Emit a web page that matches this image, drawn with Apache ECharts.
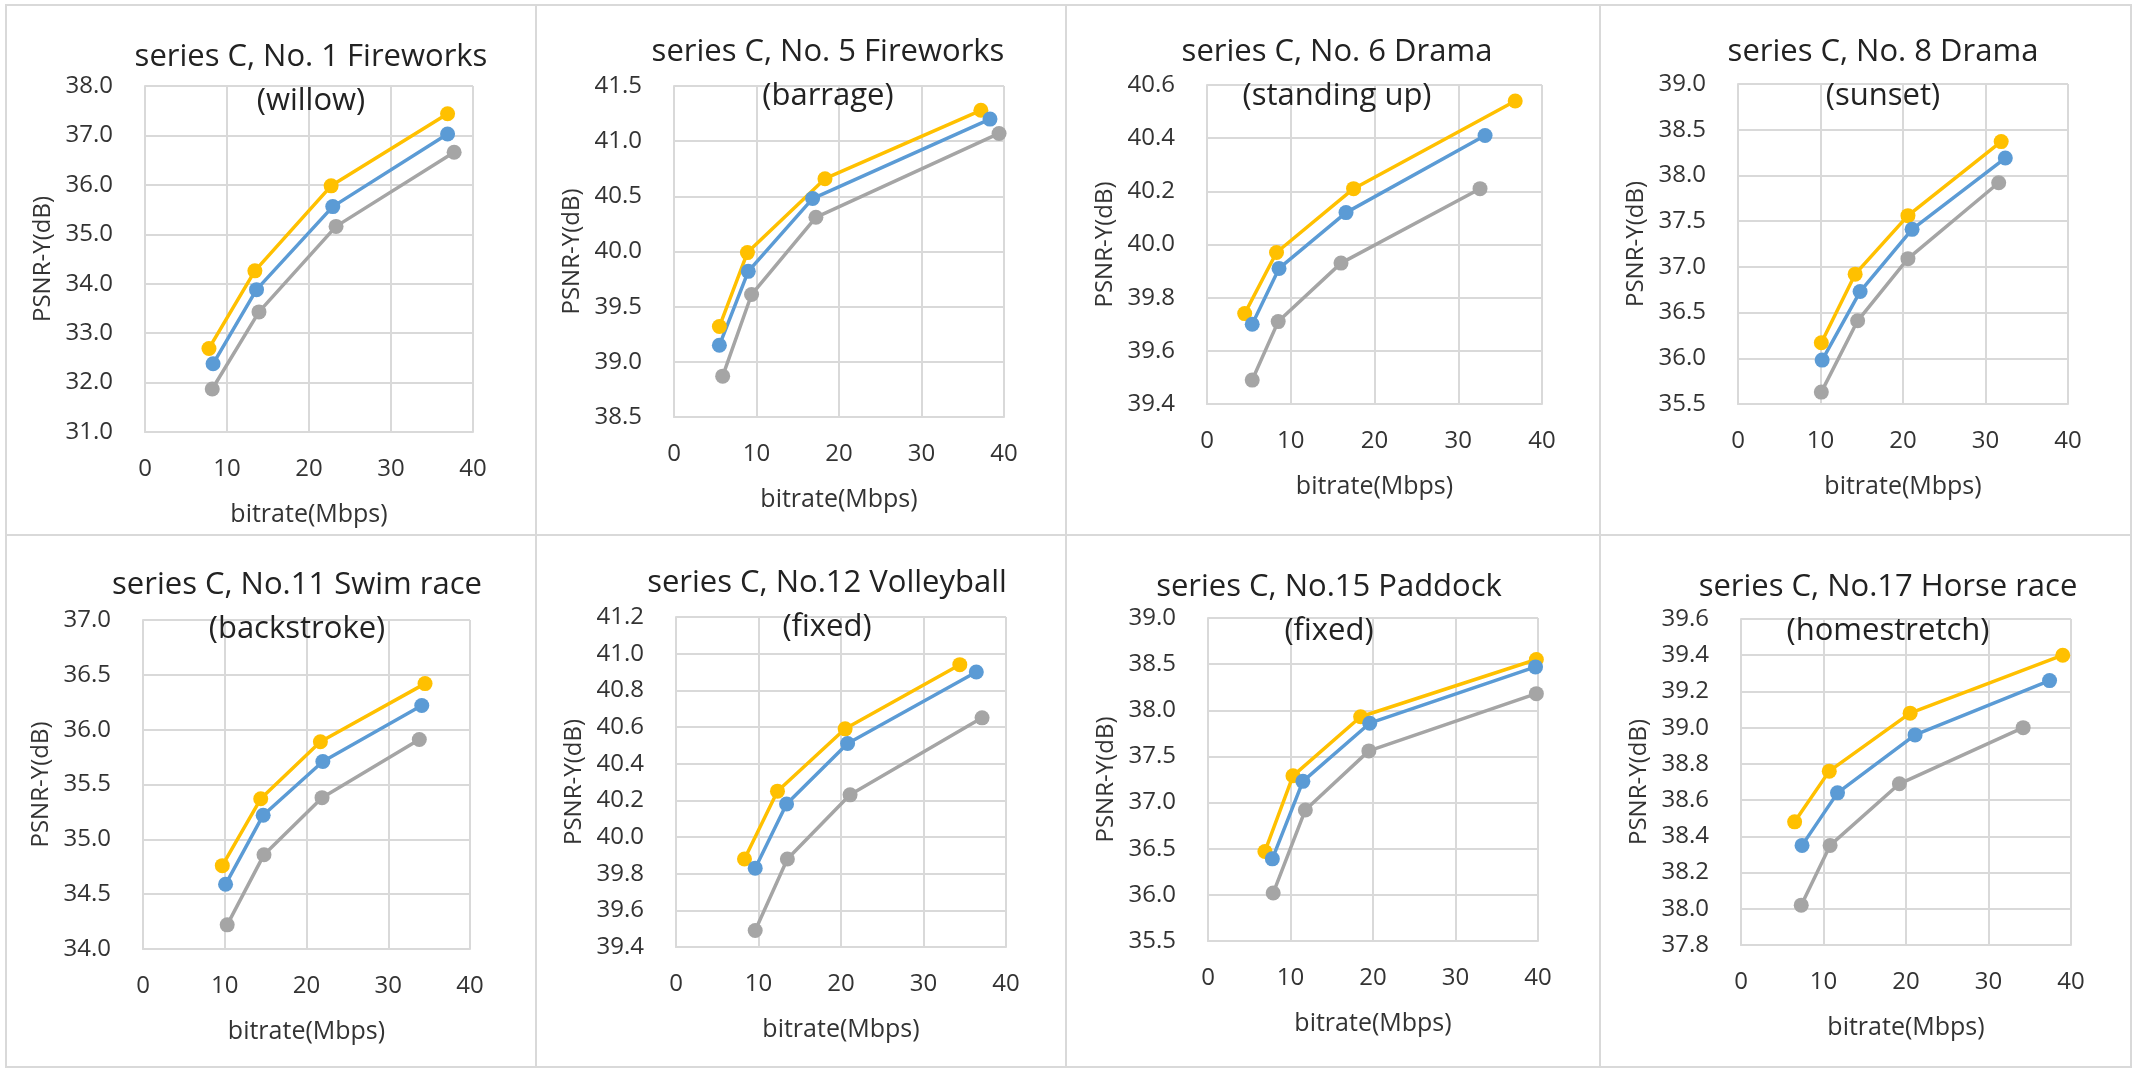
<!DOCTYPE html>
<html>
<head>
<meta charset="utf-8">
<title>PSNR-Y vs bitrate, series C</title>
<script src="https://cdn.jsdelivr.net/npm/echarts@6/dist/echarts.min.js"></script>
<style>
html, body { margin: 0; padding: 0; background: #fff; }
#main { width: 2136px; height: 1070px; }
</style>
</head>
<body>
<div id="main"></div>
<script>
// [bitrate (Mbps), PSNR-Y (dB)]
var willowYellow = [[7.8, 32.69], [13.4, 34.26], [22.7, 35.98], [36.9, 37.44]];
var willowBlue   = [[8.3, 32.38], [13.6, 33.88], [22.9, 35.56], [36.9, 37.03]];
var willowGray   = [[8.2, 31.87], [13.9, 33.43], [23.3, 35.16], [37.7, 36.66]];

var barrageYellow = [[5.5, 39.32], [8.9, 39.99], [18.3, 40.66], [37.2, 41.28]];
var barrageBlue   = [[5.5, 39.15], [9.0, 39.82], [16.8, 40.48], [38.3, 41.20]];
var barrageGray   = [[5.9, 38.87], [9.4, 39.61], [17.2, 40.31], [39.4, 41.07]];

var standingYellow = [[4.5, 39.74], [8.3, 39.97], [17.5, 40.21], [36.8, 40.54]];
var standingBlue   = [[5.4, 39.70], [8.6, 39.91], [16.6, 40.12], [33.2, 40.41]];
var standingGray   = [[5.4, 39.49], [8.5, 39.71], [16.0, 39.93], [32.6, 40.21]];

var sunsetYellow = [[10.1, 36.17], [14.2, 36.92], [20.6, 37.56], [31.9, 38.37]];
var sunsetBlue   = [[10.2, 35.98], [14.8, 36.73], [21.1, 37.41], [32.4, 38.19]];
var sunsetGray   = [[10.1, 35.63], [14.5, 36.41], [20.6, 37.09], [31.6, 37.92]];

var backstrokeYellow = [[9.7, 34.76], [14.4, 35.37], [21.7, 35.89], [34.5, 36.42]];
var backstrokeBlue   = [[10.1, 34.59], [14.7, 35.22], [22.0, 35.71], [34.1, 36.22]];
var backstrokeGray   = [[10.3, 34.22], [14.8, 34.86], [21.9, 35.38], [33.8, 35.91]];

var volleyYellow = [[8.3, 39.88], [12.3, 40.25], [20.5, 40.59], [34.4, 40.94]];
var volleyBlue   = [[9.6, 39.83], [13.4, 40.18], [20.8, 40.51], [36.4, 40.90]];
var volleyGray   = [[9.6, 39.49], [13.5, 39.88], [21.1, 40.23], [37.1, 40.65]];

var paddockYellow = [[6.9, 36.47], [10.3, 37.29], [18.5, 37.93], [39.8, 38.55]];
var paddockBlue   = [[7.8, 36.39], [11.5, 37.23], [19.6, 37.86], [39.7, 38.47]];
var paddockGray   = [[7.9, 36.02], [11.8, 36.92], [19.5, 37.56], [39.8, 38.18]];

var horseYellow = [[6.5, 38.48], [10.7, 38.76], [20.5, 39.08], [39.0, 39.40]];
var horseBlue   = [[7.4, 38.35], [11.7, 38.64], [21.1, 38.96], [37.4, 39.26]];
var horseGray   = [[7.3, 38.02], [10.8, 38.35], [19.2, 38.69], [34.2, 39.00]];

var titles = [
    'series C, No. 1 Fireworks\n(willow)',
    'series C, No. 5 Fireworks\n(barrage)',
    'series C, No. 6 Drama\n(standing up)',
    'series C, No. 8 Drama\n(sunset)',
    'series C, No.11 Swim race\n(backstroke)',
    'series C, No.12 Volleyball\n(fixed)',
    'series C, No.15 Paddock\n(fixed)',
    'series C, No.17 Horse race\n(homestretch)'
];
var yMin = [31.0, 38.5, 39.4, 35.5, 34.0, 39.4, 35.5, 37.8];
var yMax = [38.0, 41.5, 40.6, 39.0, 37.0, 41.2, 39.0, 39.6];
var yStep = [1.0, 0.5, 0.2, 0.5, 0.5, 0.2, 0.5, 0.2];
var xTicks = [0, 10, 20, 30, 40];

var panelData = [
    [willowGray, willowYellow, willowBlue],
    [barrageGray, barrageYellow, barrageBlue],
    [standingGray, standingYellow, standingBlue],
    [sunsetGray, sunsetYellow, sunsetBlue],
    [backstrokeGray, backstrokeYellow, backstrokeBlue],
    [volleyGray, volleyYellow, volleyBlue],
    [paddockGray, paddockYellow, paddockBlue],
    [horseGray, horseYellow, horseBlue]
];
var lineColors = ['#A5A5A5', '#FFC000', '#5B9BD5'];

// layout of each panel: plot box and title centre
var plots = [
    {left: 145, top: 86, width: 328, height: 346, tx: 311, ty: 35},
    {left: 674, top: 86, width: 330, height: 331, tx: 828, ty: 30},
    {left: 1207, top: 85, width: 335, height: 319, tx: 1337, ty: 30},
    {left: 1738, top: 84, width: 330, height: 320, tx: 1883, ty: 30},
    {left: 143, top: 620, width: 327, height: 329, tx: 297, ty: 563},
    {left: 676, top: 617, width: 330, height: 330, tx: 827, ty: 561},
    {left: 1208, top: 618, width: 330, height: 323, tx: 1329, ty: 565},
    {left: 1741, top: 619, width: 330, height: 326, tx: 1888, ty: 565}
];
var frameX = [6, 536, 1066, 1600, 2131];
var frameY = [5, 535, 1067];

var font = '"Open Sans", "Noto Sans", sans-serif';
var gridColor = '#d9d9d9';
var textColor = '#333333';

var myChart = echarts.init(document.getElementById('main'));

var grids = [], xAxes = [], yAxes = [], titleList = [], series = [], frames = [];

plots.forEach(function (p, i) {
    grids.push({left: p.left, top: p.top, width: p.width, height: p.height, containLabel: false});

    titleList.push({
        text: titles[i],
        left: p.tx,
        top: p.ty,
        textAlign: 'center',
        padding: 0,
        textStyle: {fontFamily: font, fontSize: 31, fontWeight: 'normal', color: '#222222', lineHeight: 44}
    });

    xAxes.push({
        gridIndex: i,
        type: 'value',
        min: xTicks[0],
        max: xTicks[xTicks.length - 1],
        interval: xTicks[1] - xTicks[0],
        name: 'bitrate(Mbps)',
        nameLocation: 'middle',
        nameGap: 70,
        nameTextStyle: {fontFamily: font, fontSize: 25, color: textColor},
        axisLine: {show: true, lineStyle: {color: gridColor, width: 2}},
        axisTick: {show: false},
        axisLabel: {margin: 25, fontFamily: font, fontSize: 24, color: textColor},
        splitLine: {show: true, lineStyle: {color: gridColor, width: 2}}
    });

    yAxes.push({
        gridIndex: i,
        type: 'value',
        min: yMin[i],
        max: yMax[i],
        interval: yStep[i],
        name: 'PSNR-Y(dB)',
        nameLocation: 'middle',
        nameGap: 90,
        nameTextStyle: {fontFamily: font, fontSize: 24, color: textColor},
        axisLine: {show: true, lineStyle: {color: gridColor, width: 2}},
        axisTick: {show: false},
        axisLabel: {
            margin: 32, fontFamily: font, fontSize: 24, color: textColor,
            formatter: function (v) { return v.toFixed(1); }
        },
        splitLine: {show: true, lineStyle: {color: gridColor, width: 2}}
    });

    panelData[i].forEach(function (d, k) {
        series.push({
            type: 'line',
            xAxisIndex: i,
            yAxisIndex: i,
            data: d,
            symbol: 'circle',
            symbolSize: 15,
            lineStyle: {color: lineColors[k], width: 3.5},
            itemStyle: {color: lineColors[k]},
            animation: false
        });
    });
});

// light gray frame around each panel
for (var r = 0; r < 2; r++) {
    for (var c = 0; c < 4; c++) {
        frames.push({
            type: 'rect',
            z: 0,
            shape: {x: frameX[c], y: frameY[r], width: frameX[c + 1] - frameX[c], height: frameY[r + 1] - frameY[r]},
            style: {fill: 'none', stroke: '#d9d9d9', lineWidth: 2}
        });
    }
}

var option = {
    backgroundColor: '#fff',
    animation: false,
    title: titleList,
    grid: grids,
    xAxis: xAxes,
    yAxis: yAxes,
    series: series,
    graphic: frames
};
myChart.setOption(option);
</script>
</body>
</html>
